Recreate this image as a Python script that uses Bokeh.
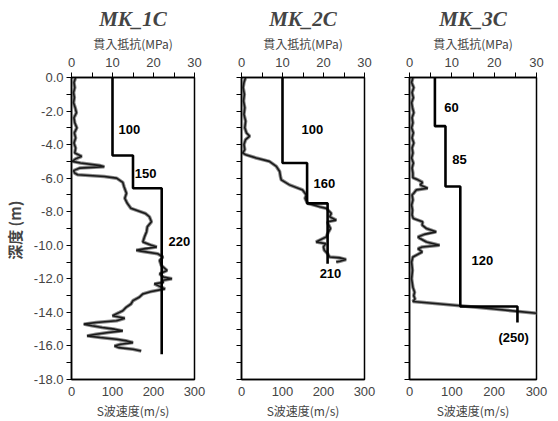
from bokeh.plotting import figure
from bokeh.models import (Range1d, LinearAxis, FixedTicker, NumeralTickFormatter)
from bokeh.layouts import row
from bokeh.core.properties import value
from bokeh.embed import file_html
from bokeh.resources import INLINE

# ---------------- data ----------------
titles = ["MK_1C", "MK_2C", "MK_3C"]

# S-wave velocity layers (m/s) and layer boundaries (depth, m)
vs1 = [100, 150, 220]
bd1 = [0.0, 4.65, 6.6, 16.5]
vs2 = [100, 160, 210]
bd2 = [0.0, 5.1, 7.5, 11.1]
vs3 = [60, 85, 120, 255]
bd3 = [0.0, 2.9, 6.5, 13.65, 14.6]

# layer labels
lab1 = ["100", "150", "220"]
lab1_v = [141, 181, 263]
lab1_d = [3.1, 5.7, 9.8]
lab2 = ["100", "160", "210"]
lab2_v = [173, 202, 217]
lab2_d = [3.1, 6.3, 11.7]
lab3 = ["60", "85", "120", "(250)"]
lab3_v = [99, 118, 172, 246]
lab3_d = [1.8, 4.9, 10.9, 15.5]

# cone penetration resistance (MPa) vs depth (m)
cd1 = [0.0, 0.3, 0.6, 0.9, 1.2, 1.5, 1.8, 2.1, 2.4, 2.7, 3.0, 3.3, 3.6, 3.9, 4.2, 4.5,
       4.7, 4.85, 5.0, 5.1, 5.25, 5.32, 5.4, 5.55, 5.7, 5.8, 5.9, 6.0, 6.25, 6.5, 6.9,
       7.2, 7.5, 7.8, 8.1, 8.3, 8.6, 8.9, 9.2, 9.5, 9.8, 10.0, 10.1, 10.2, 10.3, 10.35,
       10.5, 10.7, 10.9, 11.2, 11.5, 11.7, 11.9, 12.0, 12.1, 12.2, 12.3, 12.45, 12.6,
       12.75, 12.9, 13.1, 13.3, 13.5, 13.7, 13.9, 14.0, 14.2, 14.35, 14.5, 14.6, 14.7,
       14.8, 14.9, 15.0, 15.1, 15.2, 15.3, 15.4, 15.5, 15.6, 15.7, 15.8, 15.9, 16.0,
       16.1, 16.2, 16.3]
cq1 = [1.0, 0.6, 0.8, 0.5, 0.7, 0.5, 0.9, 1.2, 0.6, 0.8, 1.3, 0.7, 1.0, 0.6, 1.0, 0.8,
       2.5, 1.0, 0.2, 2.2, 7.0, 8.0, 2.0, 0.5, 0.8, 1.5, 8.0, 11.0, 12.5, 12.8, 13.4,
       13.0, 13.6, 14.5, 18.0, 19.0, 19.5, 18.5, 18.3, 17.8, 17.4, 19.5, 20.8, 18.0, 15.8,
       17.0, 21.0, 22.3, 21.5, 21.9, 23.3, 21.5, 22.5, 24.5, 22.0, 22.5, 20.2, 21.5, 22.8,
       19.5, 17.4, 16.5, 15.0, 14.5, 13.3, 12.5, 11.7, 10.0, 13.0, 11.0, 6.0, 3.0,
       5.0, 7.5, 10.5, 12.5, 9.0, 6.0, 3.8, 7.0, 11.0, 13.5, 15.0, 12.0, 10.5,
       11.5, 15.0, 17.0]

cd2 = [0.0, 0.3, 0.6, 1.0, 1.4, 1.8, 2.2, 2.6, 3.0, 3.3, 3.5, 3.7, 4.0, 4.3, 4.5, 4.6,
       4.8, 5.0, 5.3, 5.6, 5.9, 6.1, 6.4, 6.7, 7.0, 7.2, 7.5, 7.7, 7.8, 8.1, 8.3, 8.5,
       8.6, 8.7, 9.0, 9.3, 9.5, 9.7, 9.8, 9.9, 10.1, 10.3, 10.5, 10.7, 10.75, 10.85,
       10.95, 11.0]
cq2 = [1.0, 0.6, 0.4, 0.7, 0.5, 0.8, 0.6, 1.0, 0.8, 1.2, 2.0, 1.0, 0.6, 0.8, 0.3, 1.0,
       3.6, 6.8, 8.5, 9.3, 9.5, 9.7, 11.7, 14.9, 15.8, 15.5, 16.1, 19.0, 20.7, 21.9, 21.5,
       23.1, 21.0, 21.1, 21.7, 21.0, 20.7, 19.0, 18.2, 20.5, 20.0, 20.2, 21.0, 21.5, 24.0,
       25.5, 24.0, 23.1]

cd3 = [0.0, 0.3, 0.6, 0.9, 1.2, 1.5, 1.8, 2.1, 2.4, 2.7, 3.0, 3.3, 3.6, 3.9, 4.2, 4.5,
       4.8, 5.1, 5.4, 5.7, 5.97, 6.1, 6.25, 6.4, 6.6, 6.7, 6.9, 7.0, 7.3, 7.6, 7.9, 8.2,
       8.4, 8.6, 8.8, 9.0, 9.2, 9.35, 9.5, 9.6, 9.8, 10.0, 10.1, 10.2, 10.4, 10.7, 11.0,
       11.5, 12.0, 12.5, 12.8, 13.0, 13.2, 13.35, 13.6, 13.8, 14.05]
cq3 = [0.8, 0.5, 1.0, 0.6, 0.9, 0.5, 0.7, 1.0, 0.6, 0.8, 0.5, 0.9, 0.6, 1.0, 0.6, 0.8,
       0.5, 0.9, 0.6, 0.8, 0.8, 2.0, 3.1, 2.5, 4.3, 1.6, 1.0, 0.6, 0.8, 0.5, 0.7, 0.6,
       0.9, 3.1, 3.0, 4.0, 6.3, 3.5, 2.0, 2.5, 4.0, 7.1, 3.0, 2.0, 3.0, 0.8, 0.5,
       0.7, 0.5, 0.8, 1.2, 1.0, 1.3, 0.8, 12.0, 20.0, 30.0]

y_ticks = [0, -2, -4, -6, -8, -10, -12, -14, -16, -18]
y_minor = [-1, -3, -5, -7, -9, -11, -13, -15, -17]
vs_ticks = [0, 100, 200, 300]
q_ticks = [0, 10, 20, 30]
q_minor = [5, 15, 25]

TICK_FONT = "Liberation Sans"
JP_FONT = "Noto Sans CJK JP"


def make_panel(title, vs, bd, cd, cq, labs, lab_v, lab_d, fw, bl, br, first):
    p = figure(frame_width=fw, frame_height=302, output_backend="svg",
               toolbar_location=None,
               x_range=Range1d(0, 300), y_range=Range1d(-18, 0),
               min_border_left=bl, min_border_right=br,
               min_border_top=77, min_border_bottom=33)
    p.extra_x_ranges = {"mpa": Range1d(0, 30)}
    p.xgrid.visible = False
    p.ygrid.visible = False
    p.outline_line_color = "black"
    p.outline_line_width = 1.5
    p.background_fill_color = "white"
    p.border_fill_color = "white"

    p.title.text = title
    p.title.text_font = "Liberation Serif"
    p.title.text_font_style = "bold italic"
    p.title.text_font_size = "21px"
    p.title.align = "center"
    p.title.standoff = 2

    # bottom axis (S-wave velocity)
    xa = p.xaxis[0]
    xa.ticker = FixedTicker(ticks=vs_ticks)
    xa.axis_label = "S波速度(m/s)"
    xa.axis_label_text_font = JP_FONT
    xa.axis_label_text_font_style = "normal"
    xa.axis_label_text_font_size = "12px"
    xa.axis_label_standoff = 3
    xa.major_label_text_font = TICK_FONT
    xa.major_label_text_font_size = "13px"
    xa.major_label_standoff = 7
    xa.major_tick_out = 0
    xa.major_tick_in = 0
    xa.minor_tick_out = 0
    xa.minor_tick_in = 0
    xa.axis_line_width = 1.5

    # top axis (penetration resistance)
    ta = LinearAxis(x_range_name="mpa", axis_label="貫入抵抗(MPa)",
                    ticker=FixedTicker(ticks=q_ticks, minor_ticks=q_minor))
    ta.axis_label_text_font = JP_FONT
    ta.axis_label_text_font_style = "normal"
    ta.axis_label_text_font_size = "12px"
    ta.axis_label_standoff = 3
    ta.major_label_text_font = TICK_FONT
    ta.major_label_text_font_size = "13px"
    ta.major_label_standoff = 6
    ta.major_tick_out = 5
    ta.major_tick_in = 0
    ta.minor_tick_out = 5
    ta.minor_tick_in = 0
    ta.axis_line_width = 1.5
    p.add_layout(ta, "above")

    # left axis (depth)
    ya = p.yaxis[0]
    if first:
        ya.ticker = FixedTicker(ticks=y_ticks, minor_ticks=y_minor)
        ya.formatter = NumeralTickFormatter(format="0.0")
        ya.axis_label = "深度  (m)"
        ya.axis_label_text_font = JP_FONT
        ya.axis_label_text_font_style = "bold"
        ya.axis_label_text_font_size = "15px"
        ya.axis_label_standoff = 6
        ya.major_label_text_font = TICK_FONT
        ya.major_label_text_font_size = "13px"
        ya.major_label_standoff = 3
    else:
        ya.ticker = FixedTicker(ticks=[], minor_ticks=y_ticks + y_minor)
    ya.major_tick_out = 5
    ya.major_tick_in = 0
    ya.minor_tick_out = 5
    ya.minor_tick_in = 0
    ya.axis_line_width = 1.5

    # penetration curve (top axis)
    ny = [-d for d in cd]
    p.line(cq, ny, x_range_name="mpa", line_color="#8a8a8a", line_width=3.5)
    p.line(cq, ny, x_range_name="mpa", line_color="#1a1a1a", line_width=1.6)

    # Vs step line (bottom axis)
    sx, sy = [], []
    for i, v in enumerate(vs):
        sx += [v, v]
        sy += [-bd[i], -bd[i + 1]]
    p.line(sx, sy, line_color="black", line_width=2.6)

    p.text(x=lab_v, y=[-d for d in lab_d], text=labs,
           text_font=value(TICK_FONT), text_font_style="bold",
           text_font_size="13px", text_align="center", text_baseline="middle",
           text_color="black")
    return p


p1 = make_panel(titles[0], vs1, bd1, cd1, cq1, lab1, lab1_v, lab1_d, 123, 64, 23, True)
p2 = make_panel(titles[1], vs2, bd2, cd2, cq2, lab2, lab2_v, lab2_d, 123, 24, 23, False)
p3 = make_panel(titles[2], vs3, bd3, cd3, cq3, lab3, lab3_v, lab3_d, 127, 22, 13, False)

layout = row(p1, p2, p3)
open("out.html", "w").write(file_html(layout, INLINE))
